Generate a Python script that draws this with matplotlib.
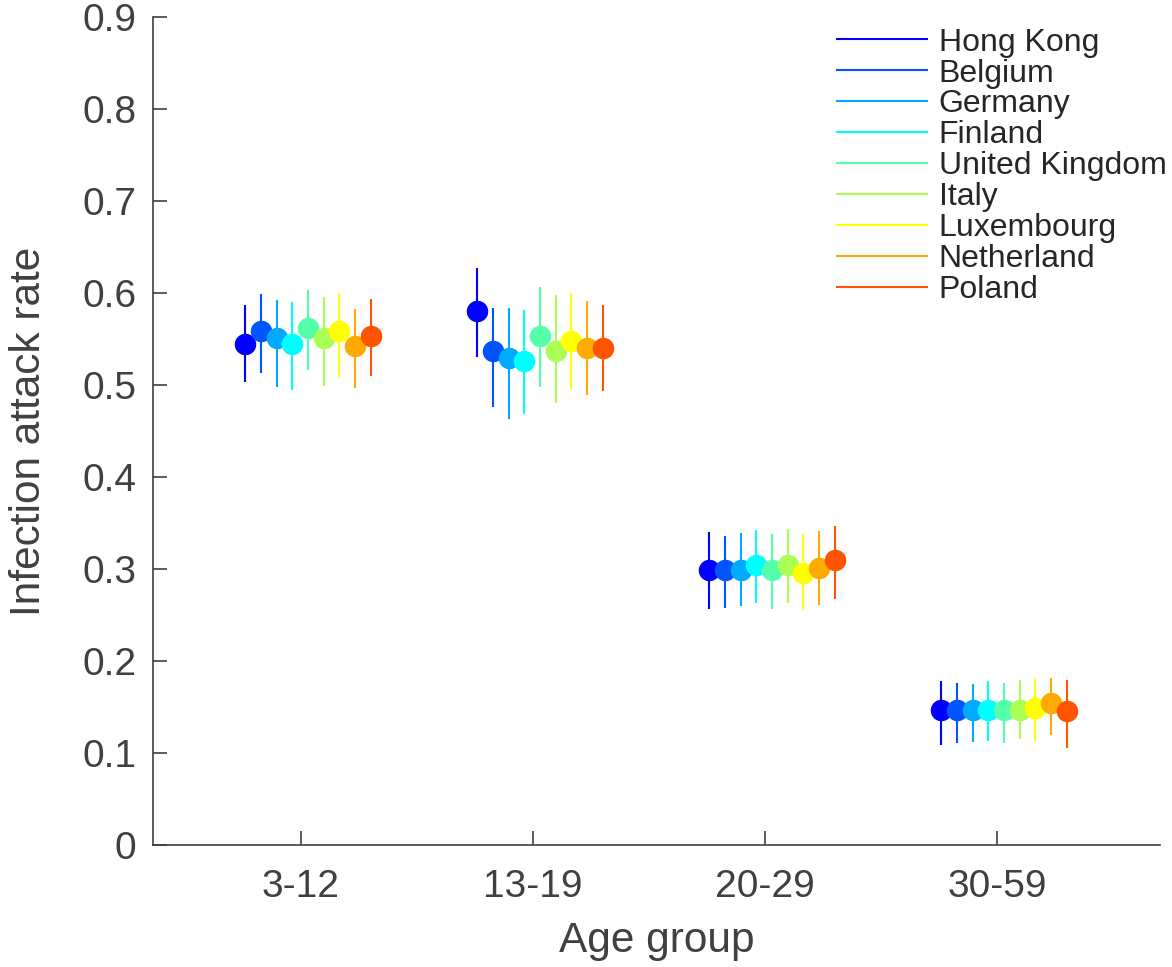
import numpy as np
import matplotlib
matplotlib.use("Agg")
import matplotlib.pyplot as plt
from matplotlib.lines import Line2D

age_groups = ["3-12", "13-19", "20-29", "30-59"]
countries = ["Hong Kong", "Belgium", "Germany", "Finland", "United Kingdom",
             "Italy", "Luxembourg", "Netherland", "Poland"]
colors = ["#0000FF", "#0055FF", "#00AAFF", "#00FFFF", "#55FFAA",
          "#AAFF55", "#FFFF00", "#FFAA00", "#FF5500"]

# attack rate per country (rows) and age group (columns)
rate = [
    [0.545, 0.580, 0.299, 0.147],
    [0.559, 0.537, 0.299, 0.147],
    [0.551, 0.529, 0.299, 0.147],
    [0.545, 0.526, 0.304, 0.147],
    [0.562, 0.553, 0.299, 0.147],
    [0.551, 0.537, 0.304, 0.147],
    [0.559, 0.548, 0.296, 0.149],
    [0.542, 0.540, 0.301, 0.154],
    [0.553, 0.540, 0.310, 0.146],
]
lower = [
    [0.503, 0.530, 0.256, 0.109],
    [0.513, 0.476, 0.258, 0.111],
    [0.498, 0.463, 0.260, 0.112],
    [0.495, 0.468, 0.263, 0.113],
    [0.516, 0.498, 0.256, 0.111],
    [0.499, 0.480, 0.263, 0.115],
    [0.509, 0.496, 0.256, 0.113],
    [0.497, 0.489, 0.261, 0.120],
    [0.510, 0.494, 0.267, 0.105],
]
upper = [
    [0.587, 0.627, 0.340, 0.178],
    [0.599, 0.584, 0.336, 0.176],
    [0.592, 0.584, 0.339, 0.175],
    [0.590, 0.582, 0.342, 0.178],
    [0.603, 0.606, 0.338, 0.176],
    [0.596, 0.598, 0.344, 0.179],
    [0.600, 0.600, 0.338, 0.180],
    [0.583, 0.591, 0.341, 0.182],
    [0.593, 0.587, 0.347, 0.179],
]

plt.rcParams["font.family"] = ["Liberation Sans", "DejaVu Sans"]
text_col = "#404040"

fig = plt.figure(figsize=(11.72, 9.67), dpi=100)
ax = fig.add_axes([0.1305, 0.1262, 0.8593, 0.8562])

groups = np.arange(1, len(age_groups) + 1)
offsets = np.linspace(-0.24, 0.30, len(countries))

handles = []
for i, name in enumerate(countries):
    y = np.array(rate[i])
    lo = y - np.array(lower[i])
    hi = np.array(upper[i]) - y
    ax.errorbar(groups + offsets[i], y, yerr=[lo, hi], fmt="o", color=colors[i],
                ecolor=colors[i], elinewidth=1.5, capsize=0, markersize=15.5,
                markeredgewidth=0)
    handles.append(Line2D([0], [0], color=colors[i], lw=1.5, label=name))

ax.set_xlim(0.362, 4.703)
ax.set_ylim(0, 0.9)
ax.set_xticks(groups)
ax.set_xticklabels(age_groups)
ax.set_yticks(np.arange(0, 0.91, 0.1))
ax.set_yticklabels(["0"] + [f"{v:.1f}" for v in np.arange(0.1, 0.91, 0.1)])

for s in ["top", "right"]:
    ax.spines[s].set_visible(False)
for s in ["left", "bottom"]:
    ax.spines[s].set_color(text_col)
    ax.spines[s].set_linewidth(1.2)
ax.tick_params(direction="in", length=10, width=1.2, color=text_col,
               labelcolor=text_col, labelsize=28)
ax.tick_params(axis="y", pad=12)
ax.tick_params(axis="x", pad=17)

ax.set_xlabel("Age group", fontsize=30.5, color=text_col, labelpad=12)
ax.set_ylabel("Infection attack rate", fontsize=30.5, color=text_col, labelpad=24)

ax.legend(handles=handles, loc="upper right", bbox_to_anchor=(1.035, 1.022),
          frameon=False, fontsize=23, handlelength=2.8, handletextpad=0.37,
          labelspacing=0.03, labelcolor="#262626")

fig.savefig("out.png", dpi=100)
